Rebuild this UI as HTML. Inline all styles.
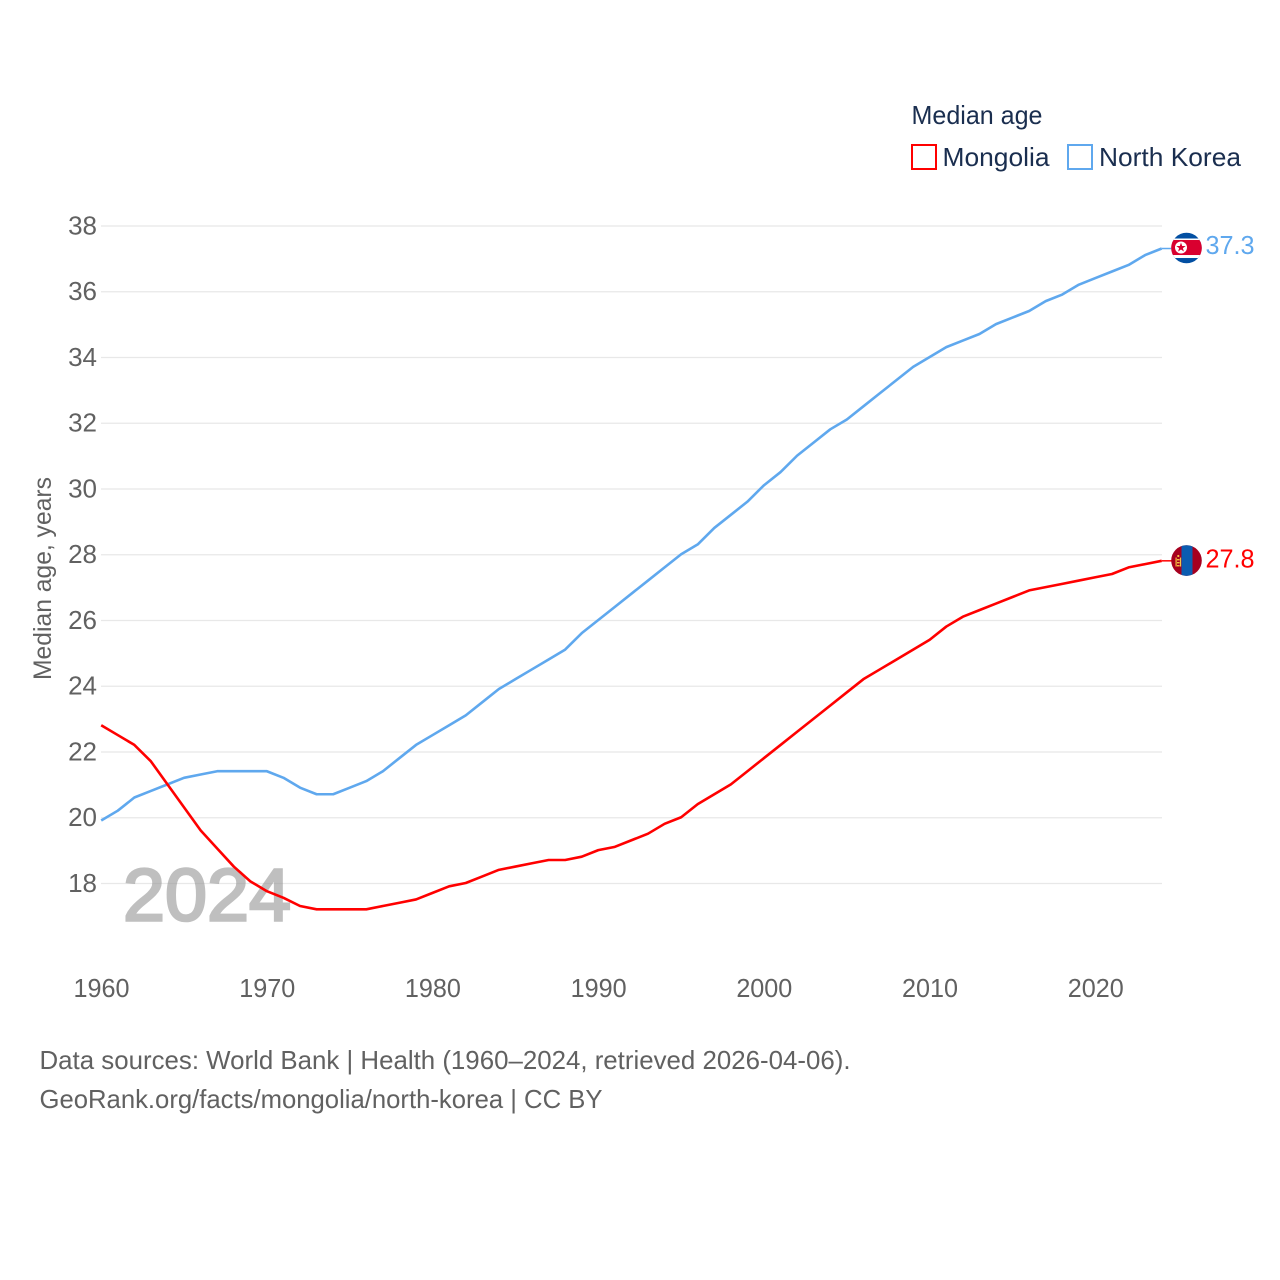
<!DOCTYPE html>
<html lang="en">
<head>
<meta charset="utf-8">
<title>Median age: Mongolia and North Korea</title>
<style>
html,body{margin:0;padding:0;background:#fff;width:1280px;height:1280px;overflow:hidden}
svg{display:block}
text{font-family:"Liberation Sans",sans-serif}
</style>
</head>
<body>
<svg id="chart" xmlns="http://www.w3.org/2000/svg" width="1280" height="1280" viewBox="0 0 1280 1280">
  <defs>
    <clipPath id="flag-clip"><circle cx="0" cy="0" r="15.3"/></clipPath>
  </defs>
  <g id="grid"></g>
  <text id="year" x="123" y="920.5" font-size="74" fill="#999" stroke="#999" stroke-width="2.6" opacity="0.62" textLength="168" lengthAdjust="spacingAndGlyphs">2024</text>
  <g id="y-ticks"></g>
  <g id="x-ticks"></g>
  <text transform="translate(51,680) rotate(-90)" font-size="25" fill="#616161" textLength="203" lengthAdjust="spacingAndGlyphs">Median age, years</text>
  <g id="series" transform="translate(-0.3,-0.5)"></g>

  <g>
    <text x="911.5" y="124" font-size="26" fill="#1a2e4f" textLength="131" lengthAdjust="spacingAndGlyphs">Median age</text>
    <g>
      <rect x="912" y="145" width="24" height="24" fill="#fff" stroke="#ff0000" stroke-width="2"/>
      <text x="942.5" y="166" font-size="26" fill="#1a2e4f" textLength="107" lengthAdjust="spacingAndGlyphs">Mongolia</text>
    </g>
    <g>
      <rect x="1068" y="145" width="24" height="24" fill="#fff" stroke="#5fa8ee" stroke-width="2"/>
      <text x="1099" y="166" font-size="26" fill="#1a2e4f" textLength="142" lengthAdjust="spacingAndGlyphs">North Korea</text>
    </g>
  </g>

  <g id="flag-kp">
    <g clip-path="url(#flag-clip)">
      <rect x="-16" y="-16" width="32" height="32" fill="#024fa2"/>
      <rect x="-16" y="-9.5" width="32" height="19.5" fill="#fff"/>
      <rect x="-16" y="-8" width="32" height="15" fill="#d9002f"/>
      <circle cx="-5.5" cy="-0.5" r="6" fill="#fff"/>
      <polygon points="-5.5,-5.4 -4.3,-2 -0.8,-2 -3.6,0.1 -2.6,3.5 -5.5,1.5 -8.4,3.5 -7.4,0.1 -10.2,-2 -6.7,-2" fill="#d9002f"/>
    </g>
  </g>
  <g id="flag-mn">
    <g clip-path="url(#flag-clip)">
      <rect x="-16" y="-16" width="32" height="32" fill="#a6001f"/>
      <rect x="-5" y="-16" width="11" height="32" fill="#0b5cb0"/>
      <rect x="-11" y="-3" width="1.2" height="9" fill="#f5c242"/>
      <rect x="-6.6" y="-3" width="1.2" height="9" fill="#f5c242"/>
      <rect x="-9.5" y="-1.5" width="2.6" height="1.4" fill="#f5c242"/>
      <rect x="-9.5" y="1.5" width="2.6" height="1.4" fill="#f5c242"/>
      <rect x="-9.5" y="4.5" width="2.6" height="1.4" fill="#f5c242"/>
      <circle cx="-8.2" cy="-4.5" r="1.1" fill="#f5c242"/>
    </g>
  </g>
  <text id="end-kp" x="1205.5" y="254" font-size="26" fill="#5fa8ee" textLength="49" lengthAdjust="spacingAndGlyphs"></text>
  <text id="end-mn" x="1205.5" y="567" font-size="26" fill="#ff0000" textLength="49" lengthAdjust="spacingAndGlyphs"></text>

  <g>
    <text x="39.5" y="1069" font-size="26" fill="#616161" textLength="811" lengthAdjust="spacingAndGlyphs">Data sources: World Bank | Health (1960–2024, retrieved 2026-04-06).</text>
    <text x="39.5" y="1108" font-size="26" fill="#616161" textLength="563" lengthAdjust="spacingAndGlyphs">GeoRank.org/facts/mongolia/north-korea | CC BY</text>
  </g>
</svg>
<script>
const startYear = 1960;
const mongolia = [22.8,22.5,22.2,21.7,21.0,20.3,19.6,19.05,18.5,18.05,17.75,17.55,17.3,17.2,17.2,17.2,17.2,17.3,17.4,17.5,17.7,17.9,18.0,18.2,18.4,18.5,18.6,18.7,18.7,18.8,19.0,19.1,19.3,19.5,19.8,20.0,20.4,20.7,21.0,21.4,21.8,22.2,22.6,23.0,23.4,23.8,24.2,24.5,24.8,25.1,25.4,25.8,26.1,26.3,26.5,26.7,26.9,27.0,27.1,27.2,27.3,27.4,27.6,27.7,27.8];
const northKorea = [19.9,20.2,20.6,20.8,21.0,21.2,21.3,21.4,21.4,21.4,21.4,21.2,20.9,20.7,20.7,20.9,21.1,21.4,21.8,22.2,22.5,22.8,23.1,23.5,23.9,24.2,24.5,24.8,25.1,25.6,26.0,26.4,26.8,27.2,27.6,28.0,28.3,28.8,29.2,29.6,30.1,30.5,31.0,31.4,31.8,32.1,32.5,32.9,33.3,33.7,34.0,34.3,34.5,34.7,35.0,35.2,35.4,35.7,35.9,36.2,36.4,36.6,36.8,37.1,37.3];
const yTicks = [18,20,22,24,26,28,30,32,34,36,38];
const xTicks = [1960,1970,1980,1990,2000,2010,2020];

const NS = 'http://www.w3.org/2000/svg';
const xScale = function (year) { return 101.5 + (year - 1960) * (1162 - 101.5) / 64; };
const yScale = function (v) { return 883.5 - (v - 18) * (883.5 - 226) / 20; };

const grid = document.getElementById('grid');
const yGroup = document.getElementById('y-ticks');
const xGroup = document.getElementById('x-ticks');
const seriesGroup = document.getElementById('series');

yTicks.forEach(function (t) {
  const line = document.createElementNS(NS, 'line');
  
  
  line.setAttribute('x1', 101);
  line.setAttribute('x2', 1162);
  line.setAttribute('y1', yScale(t));
  line.setAttribute('y2', yScale(t));
  line.setAttribute('stroke', '#e8e8e8');
  line.setAttribute('stroke-width', '1.3');
  grid.appendChild(line);

  const label = document.createElementNS(NS, 'text');
  
  
  label.setAttribute('x', 97);
  label.setAttribute('y', yScale(t) + 8.3);
  label.setAttribute('text-anchor', 'end');
  label.setAttribute('font-size', '26');
  label.setAttribute('fill', '#616161');
  label.textContent = t;
  yGroup.appendChild(label);
});

xTicks.forEach(function (t) {
  const label = document.createElementNS(NS, 'text');
  
  
  label.setAttribute('x', xScale(t));
  label.setAttribute('y', 997);
  label.setAttribute('text-anchor', 'middle');
  label.setAttribute('font-size', '26');
  label.setAttribute('fill', '#616161');
  label.setAttribute('textLength', '56');
  label.setAttribute('lengthAdjust', 'spacingAndGlyphs');
  label.textContent = t;
  xGroup.appendChild(label);
});

function pointsFor(values) {
  return values.map(function (v, i) {
    return xScale(startYear + i).toFixed(2) + ',' + yScale(v).toFixed(2);
  }).join(' ');
}

const blueLine = document.createElementNS(NS, 'polyline');


blueLine.setAttribute('points', pointsFor(northKorea));
blueLine.setAttribute('fill', 'none');
blueLine.setAttribute('stroke', '#5fa8ee');
blueLine.setAttribute('stroke-width', '2.6');
blueLine.setAttribute('stroke-linejoin', 'round');
seriesGroup.appendChild(blueLine);

const redLine = document.createElementNS(NS, 'polyline');


redLine.setAttribute('points', pointsFor(mongolia));
redLine.setAttribute('fill', 'none');
redLine.setAttribute('stroke', '#ff0000');
redLine.setAttribute('stroke-width', '2.6');
redLine.setAttribute('stroke-linejoin', 'round');
seriesGroup.appendChild(redLine);

const lastKp = northKorea[northKorea.length - 1];
const lastMn = mongolia[mongolia.length - 1];
const lastX = xScale(startYear + northKorea.length - 1);

function endConnector(value, color, name) {
  const c = document.createElementNS(NS, 'line');
  
  
  c.setAttribute('x1', lastX);
  c.setAttribute('x2', lastX + 10);
  c.setAttribute('y1', yScale(value));
  c.setAttribute('y2', yScale(value));
  c.setAttribute('stroke', color);
  c.setAttribute('stroke-width', '1.5');
  seriesGroup.appendChild(c);
}
endConnector(lastKp, '#5fa8ee', 'north-korea-end-connector');
endConnector(lastMn, '#ff0000', 'mongolia-end-connector');

document.getElementById('flag-kp').setAttribute('transform', 'translate(' + (lastX + 24.5) + ',' + (yScale(lastKp) - 1) + ')');
document.getElementById('flag-mn').setAttribute('transform', 'translate(' + (lastX + 24.5) + ',' + (yScale(lastMn) - 0.8) + ')');

const endKp = document.getElementById('end-kp');
endKp.textContent = lastKp.toFixed(1);
endKp.setAttribute('y', yScale(lastKp) + 5);
const endMn = document.getElementById('end-mn');
endMn.textContent = lastMn.toFixed(1);
endMn.setAttribute('y', yScale(lastMn) + 6);
</script>
</body>
</html>
